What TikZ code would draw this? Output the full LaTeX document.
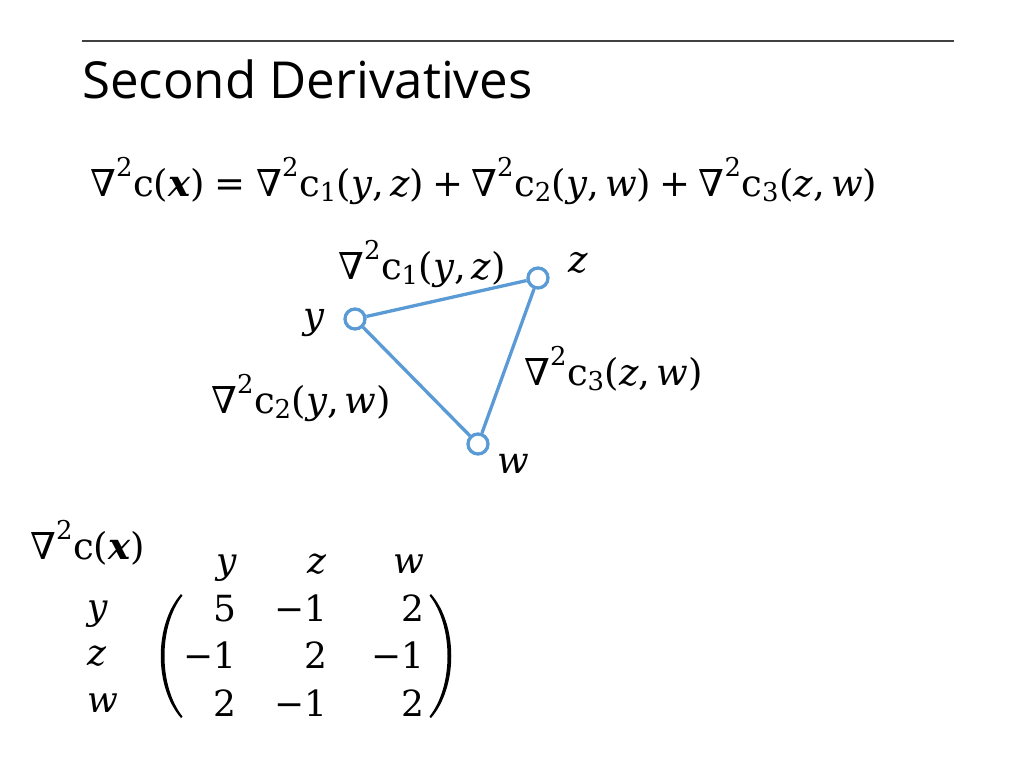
\RequirePackage{fix-cm}
\documentclass[tikz,border=0pt]{standalone}
\usepackage{amsmath}
\usepackage[no-math]{fontspec}
\setmainfont{Open Sans}
\newfontfamily\dvserif{DejaVu Serif}[NFSSFamily=dvs]
\DeclareSymbolFont{operators}{TU}{dvs}{m}{n}
\SetSymbolFont{operators}{bold}{TU}{dvs}{b}{n}
\DeclareSymbolFont{letters}{TU}{dvs}{m}{it}
\SetSymbolFont{letters}{bold}{TU}{dvs}{b}{it}
\Umathcode`\-="2 \symoperators "2212
\Umathcode`\,="6 \symoperators "002C
\renewcommand{\nabla}{\Umathchar"0 \symoperators "2207 }
\definecolor{edgeblue}{RGB}{91,155,213}
\definecolor{rulegray}{RGB}{64,64,64}
\definecolor{inkblack}{RGB}{0,0,0}
\tikzset{
  vert/.style={circle,draw=edgeblue,fill=white,line width=3.3pt,minimum size=20pt,inner sep=0pt},
  edge/.style={draw=edgeblue,line width=3.3pt},
  lbl/.style={font=\fontsize{37}{44}\selectfont,inner sep=0pt,text=inkblack},
  mat/.style={font=\fontsize{36}{43}\selectfont,inner sep=0pt,text=inkblack},
  bracket/.style={fill=inkblack,draw=none},
  titletext/.style={font=\fontsize{51}{60}\selectfont,inner sep=0pt,anchor=base west,text=inkblack},
}
\begin{document}
\begin{tikzpicture}[x=1pt,y=-1pt]
\useasboundingbox[fill=white] (0,0) rectangle (1024,768);
% top rule
\coordinate (r1) at (82,41);
\coordinate (r2) at (954,41);
\draw[rulegray,line width=2pt] (r1) -- (r2);
% title
\node[titletext] (title) at (82,98) {Second Derivatives};
% equation
\node[lbl,anchor=base west] (eq) at (90,196) {$\nabla^2\mathrm{c}(\boldsymbol{x}) = \nabla^2\mathrm{c}_1(y,z) + \nabla^2\mathrm{c}_2(y,w) + \nabla^2\mathrm{c}_3(z,w)$};
% graph
\node[vert] (y) at (355,319) {};
\node[vert] (z) at (538,278) {};
\node[vert] (w) at (478,444) {};
\draw[edge] (y) -- (z);
\draw[edge] (z) -- (w);
\draw[edge] (y) -- (w);
\node[lbl,anchor=base west] (ly) at (303,328) {$y$};
\node[lbl,anchor=base west] (lz) at (568,272) {$z$};
\node[lbl,anchor=base west] (lw) at (497,473) {$w$};
\node[lbl,anchor=base west] (c1) at (338,279) {$\nabla^2\mathrm{c}_1(y,z)$};
\node[lbl,anchor=base west] (c3) at (524,385) {$\nabla^2\mathrm{c}_3(z,w)$};
\node[lbl,anchor=base west] (c2) at (211,413) {$\nabla^2\mathrm{c}_2(y,w)$};
% hessian
\node[lbl,anchor=base west] (hess) at (30,559) {$\nabla^2\mathrm{c}(\boldsymbol{x})$};
\node[mat,anchor=base east] (hy) at (237,573) {$y$};
\node[mat,anchor=base east] (hz) at (327,573) {$z$};
\node[mat,anchor=base east] (hw) at (425,573) {$w$};
\node[mat,anchor=base west] (ry) at (87,619) {$y$};
\node[mat,anchor=base west] (rz) at (87,665) {$z$};
\node[mat,anchor=base west] (rw) at (87,712) {$w$};
\node[mat,anchor=base east] (m11) at (237,621) {$5$};
\node[mat,anchor=base east] (m12) at (328,621) {$-1$};
\node[mat,anchor=base east] (m13) at (425,621) {$2$};
\node[mat,anchor=base east] (m21) at (237,668) {$-1$};
\node[mat,anchor=base east] (m22) at (328,668) {$2$};
\node[mat,anchor=base east] (m23) at (425,668) {$-1$};
\node[mat,anchor=base east] (m31) at (237,716) {$2$};
\node[mat,anchor=base east] (m32) at (328,716) {$-1$};
\node[mat,anchor=base east] (m33) at (425,716) {$2$};
% matrix brackets
\fill[bracket] (181,594) .. controls (154,625) and (154,687) .. (181,718)
  -- (182.5,716.5) .. controls (158.5,686) and (158.5,626) .. (182.5,595.5) -- cycle;
\fill[bracket] (431,594) .. controls (458,625) and (458,687) .. (431,718)
  -- (429.5,716.5) .. controls (453.5,686) and (453.5,626) .. (429.5,595.5) -- cycle;
\end{tikzpicture}
\end{document}
